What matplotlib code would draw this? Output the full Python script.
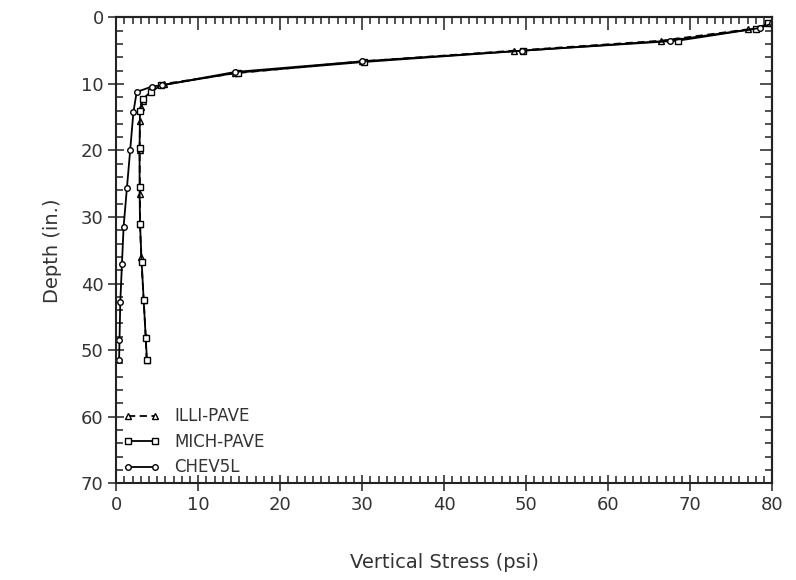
import matplotlib
matplotlib.use("Agg")
import matplotlib.pyplot as plt
from matplotlib.ticker import MultipleLocator, NullFormatter

# ILLI-PAVE (dashed, triangles)
illi_depth = [0.9, 1.8, 3.5, 5.0, 6.6, 8.4, 10.0, 11.0, 12.5, 13.5, 15.5, 20.0, 26.5, 31.0, 36.0, 42.5, 48.0, 51.5]
illi_stress = [80.0, 77.0, 66.5, 48.5, 30.0, 14.5, 5.8, 4.3, 3.3, 3.0, 2.9, 2.85, 2.9, 2.9, 3.05, 3.35, 3.6, 3.7]

# MICH-PAVE (solid, squares)
mich_depth = [0.9, 1.7, 3.5, 5.0, 6.7, 8.3, 10.2, 11.2, 12.2, 14.0, 19.7, 25.5, 31.0, 36.7, 42.5, 48.2, 51.5]
mich_stress = [79.5, 78.0, 68.5, 49.6, 30.2, 14.8, 5.5, 4.2, 3.3, 2.9, 2.85, 2.85, 2.9, 3.1, 3.35, 3.6, 3.75]

# CHEV5L (solid, circles)
chev_depth = [0.9, 1.6, 3.5, 5.0, 6.6, 8.2, 10.2, 10.4, 11.2, 14.2, 20.0, 25.7, 31.5, 37.0, 42.7, 48.5, 51.5]
chev_stress = [80.0, 78.5, 67.5, 49.5, 30.0, 14.5, 5.6, 4.35, 2.5, 2.1, 1.7, 1.3, 0.9, 0.7, 0.5, 0.4, 0.35]

plt.rcParams['font.family'] = ['DejaVu Sans']

fig = plt.figure(figsize=(7.96, 5.8), dpi=100)
ax = fig.add_axes([0.146, 0.167, 0.824, 0.803])

mk = dict(ms=4, mfc='white', mew=1.0)
ax.plot(illi_stress, illi_depth, color='black', lw=1.3, ls=(0, (4, 2.5)),
        marker='^', label='ILLI-PAVE', **mk)
ax.plot(mich_stress, mich_depth, color='black', lw=1.3, ls='-',
        marker='s', label='MICH-PAVE', **mk)
ax.plot(chev_stress, chev_depth, color='black', lw=1.3, ls='-',
        marker='o', label='CHEV5L', **mk)

ax.set_xlim(0, 80)
ax.set_ylim(70, 0)

tick_col = '#222222'

ax.xaxis.set_major_locator(MultipleLocator(10))
ax.xaxis.set_minor_locator(MultipleLocator(1))
ax.yaxis.set_major_locator(MultipleLocator(10))
ax.yaxis.set_minor_locator(MultipleLocator(2))

# left / bottom: major ticks cross the frame, minor inward
ax.tick_params(which='both', top=False, right=False)
ax.tick_params(which='minor', direction='in', length=5, width=1.1, color=tick_col)
ax.tick_params(which='major', direction='inout', length=12, width=1.1, color=tick_col,
               labelsize=13, labelcolor='#333333', pad=3)

# top / right: inward ticks only
top = ax.secondary_xaxis('top')
top.xaxis.set_major_locator(MultipleLocator(10))
top.xaxis.set_minor_locator(MultipleLocator(1))
top.xaxis.set_major_formatter(NullFormatter())
top.tick_params(which='major', direction='in', length=9, width=1.1, color=tick_col)
top.tick_params(which='minor', direction='in', length=5, width=1.1, color=tick_col)

right = ax.secondary_yaxis('right')
right.yaxis.set_major_locator(MultipleLocator(10))
right.yaxis.set_minor_locator(MultipleLocator(2))
right.yaxis.set_major_formatter(NullFormatter())
right.tick_params(which='major', direction='in', length=9, width=1.1, color=tick_col)
right.tick_params(which='minor', direction='in', length=5, width=1.1, color=tick_col)

for a in (ax, top, right):
    for s in a.spines.values():
        s.set_linewidth(1.5)
        s.set_color(tick_col)

ax.set_xlabel('Vertical Stress (psi)', fontsize=14, color='#333333', labelpad=28)
ax.set_ylabel('Depth (in.)', fontsize=14, color='#333333', labelpad=14)

ax.legend(loc='lower left', frameon=False, fontsize=12, numpoints=2,
          handlelength=2.2, handletextpad=0.9, labelspacing=0.45,
          borderaxespad=0.0, labelcolor='#333333')

fig.savefig('out.png', dpi=100)
